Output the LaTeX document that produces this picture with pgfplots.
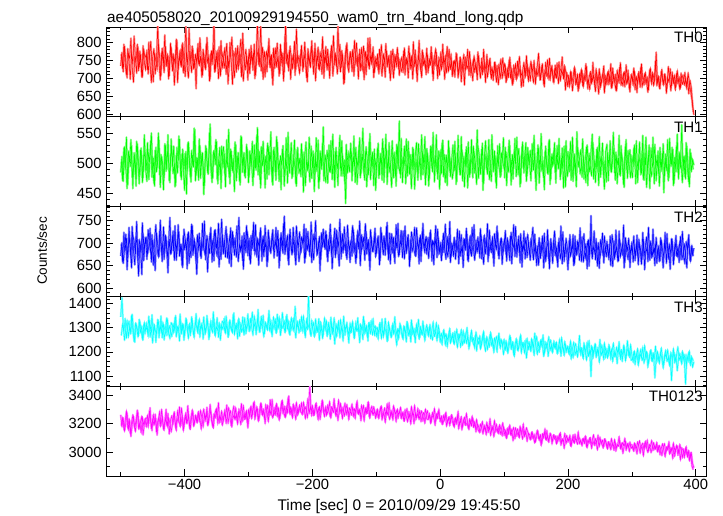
\documentclass[border=0pt]{standalone}
\usepackage{pgfplots}
\usepackage{pgfplotstable}
\pgfplotsset{compat=1.18}
\usepackage{fontspec}
\setmainfont{Liberation Sans}

% Light curves: even 1-s bins (A, from -500 s) and odd 1-s bins (B, from -499 s), every 2 s

% TH0 A
\pgfplotstableread[row sep=\\]{
y\\
735\\772\\718\\790\\745\\701\\768\\756\\812\\730\\689\\760\\748\\795\\721\\776\\742\\703\\781\\758\\
766\\724\\801\\739\\688\\757\\783\\712\\749\\852\\741\\695\\770\\752\\716\\789\\734\\763\\707\\798\\
745\\769\\681\\752\\806\\727\\761\\738\\794\\715\\759\\847\\733\\701\\776\\748\\790\\726\\754\\671\\
782\\740\\813\\756\\708\\767\\729\\795\\744\\761\\698\\777\\752\\866\\719\\763\\731\\788\\706\\749\\
771\\728\\759\\797\\684\\743\\766\\815\\737\\702\\784\\753\\726\\769\\809\\741\\692\\758\\780\\733\\
760\\713\\792\\746\\771\\699\\754\\861\\738\\765\\720\\787\\747\\704\\774\\756\\811\\729\\766\\681\\
748\\785\\731\\762\\706\\795\\742\\770\\717\\858\\751\\733\\779\\697\\763\\744\\803\\725\\768\\738\\
714\\776\\755\\729\\801\\745\\690\\767\\740\\784\\759\\711\\798\\735\\762\\725\\773\\749\\816\\700\\
764\\738\\781\\722\\757\\792\\706\\746\\769\\731\\849\\752\\718\\778\\743\\687\\761\\799\\734\\755\\
772\\719\\750\\806\\737\\764\\698\\781\\745\\723\\790\\758\\710\\767\\734\\813\\748\\773\\702\\760\\
735\\768\\712\\751\\794\\728\\745\\703\\776\\739\\762\\694\\749\\781\\721\\757\\733\\770\\708\\744\\
759\\716\\785\\736\\748\\701\\771\\742\\727\\802\\733\\757\\691\\764\\745\\718\\779\\738\\753\\710\\
766\\729\\744\\788\\712\\751\\736\\773\\699\\758\\741\\724\\795\\737\\762\\715\\748\\781\\727\\746\\
712\\749\\735\\768\\701\\730\\756\\719\\742\\681\\760\\727\\738\\775\\709\\733\\752\\718\\741\\696\\
764\\725\\737\\710\\781\\721\\743\\704\\730\\756\\698\\724\\712\\745\\689\\717\\739\\701\\726\\757\\
708\\733\\694\\718\\751\\702\\727\\686\\714\\740\\699\\723\\761\\705\\716\\678\\731\\709\\744\\693\\
720\\747\\711\\689\\728\\705\\736\\770\\698\\715\\741\\683\\722\\707\\752\\716\\695\\730\\713\\688\\
737\\701\\719\\746\\692\\724\\709\\733\\667\\716\\701\\676\\718\\689\\705\\731\\683\\698\\664\\712\\
690\\722\\677\\703\\741\\685\\696\\669\\715\\693\\708\\680\\726\\699\\656\\712\\687\\704\\735\\678\\
697\\715\\683\\706\\672\\729\\691\\710\\665\\700\\688\\744\\695\\679\\718\\702\\684\\723\\670\\694\\
707\\681\\719\\693\\660\\714\\689\\732\\676\\698\\711\\685\\703\\667\\725\\692\\716\\680\\699\\773\\
688\\705\\671\\720\\695\\683\\712\\658\\701\\690\\727\\679\\706\\694\\668\\715\\686\\703\\674\\697\\
709\\682\\698\\671\\715\\688\\664\\640\\606\\
}\thzeroA
% TH0 B
\pgfplotstableread[row sep=\\]{
y\\
768\\726\\795\\741\\709\\783\\750\\697\\772\\739\\818\\755\\714\\788\\731\\766\\703\\791\\745\\724\\
779\\712\\758\\803\\736\\690\\771\\748\\725\\796\\760\\707\\784\\742\\821\\733\\769\\698\\757\\787\\
720\\763\\741\\809\\688\\754\\778\\731\\799\\746\\705\\772\\737\\839\\752\\716\\783\\728\\766\\744\\
797\\735\\762\\703\\781\\749\\724\\814\\757\\692\\770\\738\\793\\717\\759\\776\\699\\742\\805\\730\\
753\\786\\711\\764\\729\\800\\745\\683\\774\\758\\717\\791\\736\\769\\704\\826\\748\\725\\762\\695\\
781\\740\\767\\722\\795\\708\\756\\779\\733\\850\\744\\697\\773\\751\\718\\788\\739\\764\\701\\784\\
727\\760\\798\\738\\713\\776\\749\\692\\817\\743\\766\\720\\790\\755\\728\\771\\708\\837\\746\\762\\
734\\792\\719\\768\\745\\701\\783\\756\\730\\805\\739\\774\\693\\761\\787\\725\\749\\711\\779\\742\\
789\\723\\761\\700\\776\\744\\819\\737\\765\\712\\752\\795\\729\\769\\684\\757\\791\\736\\718\\774\\
741\\780\\706\\758\\799\\733\\767\\721\\786\\750\\696\\775\\744\\812\\726\\761\\739\\788\\715\\751\\
755\\723\\781\\738\\706\\769\\744\\797\\731\\759\\714\\776\\740\\701\\765\\748\\786\\726\\752\\719\\
732\\777\\709\\756\\741\\790\\725\\763\\698\\749\\779\\718\\742\\806\\735\\702\\770\\747\\728\\784\\
715\\753\\738\\771\\694\\759\\782\\726\\745\\709\\774\\734\\761\\697\\752\\789\\720\\743\\767\\705\\
748\\703\\771\\736\\715\\759\\690\\741\\766\\722\\734\\781\\708\\751\\727\\693\\762\\739\\717\\774\\
731\\700\\756\\719\\742\\688\\767\\725\\749\\712\\731\\694\\745\\708\\736\\682\\721\\754\\699\\728\\
741\\688\\727\\704\\759\\715\\681\\736\\722\\697\\748\\710\\731\\675\\719\\744\\701\\763\\708\\729\\
692\\738\\716\\750\\683\\724\\707\\741\\695\\732\\714\\676\\745\\720\\699\\756\\711\\735\\689\\723\\
704\\743\\685\\718\\727\\760\\698\\734\\712\\679\\707\\683\\719\\665\\698\\726\\688\\711\\671\\703\\
725\\681\\709\\694\\733\\670\\702\\718\\684\\745\\696\\663\\712\\688\\727\\675\\701\\716\\659\\706\\
683\\720\\695\\741\\674\\708\\689\\667\\722\\700\\731\\681\\697\\714\\676\\738\\690\\706\\662\\711\\
694\\729\\668\\704\\686\\719\\675\\740\\698\\682\\716\\691\\661\\707\\728\\684\\712\\695\\749\\679\\
705\\673\\697\\724\\682\\711\\690\\676\\733\\699\\665\\718\\687\\708\\677\\721\\693\\670\\715\\684\\
692\\716\\678\\701\\657\\694\\673\\628\\598\\
}\thzeroB

% TH1 A
\pgfplotstableread[row sep=\\]{
y\\
485\\512\\470\\528\\496\\458\\521\\503\\540\\477\\492\\515\\462\\533\\499\\481\\526\\468\\507\\519\\
488\\535\\473\\509\\551\\494\\467\\522\\486\\504\\539\\460\\512\\497\\476\\531\\490\\548\\471\\508\\
524\\483\\499\\463\\527\\505\\541\\478\\516\\492\\455\\520\\487\\536\\501\\469\\514\\494\\557\\480\\
509\\472\\530\\495\\518\\448\\503\\526\\484\\511\\566\\489\\475\\522\\498\\537\\466\\506\\482\\529\\
493\\517\\461\\540\\500\\476\\524\\491\\509\\453\\532\\485\\518\\470\\546\\497\\512\\479\\503\\525\\
468\\521\\494\\537\\477\\510\\489\\560\\502\\473\\528\\496\\515\\459\\506\\534\\481\\519\\492\\464\\
527\\486\\545\\501\\470\\513\\497\\530\\462\\508\\491\\552\\484\\517\\475\\499\\539\\466\\523\\495\\
507\\478\\520\\452\\511\\536\\488\\502\\469\\529\\493\\516\\480\\543\\504\\458\\521\\490\\533\\471\\
514\\497\\467\\531\\485\\509\\549\\476\\520\\498\\463\\525\\492\\538\\479\\506\\433\\517\\500\\486\\
534\\471\\512\\495\\527\\465\\501\\543\\483\\516\\490\\472\\528\\505\\481\\550\\496\\519\\463\\508\\
489\\526\\475\\513\\498\\541\\468\\507\\521\\484\\535\\494\\460\\518\\502\\479\\532\\491\\571\\476\\
510\\495\\529\\466\\504\\537\\482\\515\\490\\524\\457\\508\\486\\533\\499\\473\\520\\501\\545\\480\\
517\\462\\503\\528\\486\\511\\494\\548\\474\\507\\521\\483\\539\\496\\468\\514\\490\\526\\478\\505\\
531\\488\\512\\470\\547\\497\\481\\523\\505\\461\\519\\493\\536\\477\\510\\498\\529\\484\\502\\556\\
475\\509\\491\\534\\467\\516\\500\\482\\540\\495\\470\\524\\488\\513\\459\\530\\497\\477\\518\\503\\
492\\527\\463\\511\\539\\485\\506\\474\\521\\499\\544\\481\\512\\466\\528\\494\\508\\535\\479\\515\\
500\\471\\533\\489\\517\\455\\504\\526\\487\\550\\493\\476\\519\\507\\483\\538\\465\\512\\496\\522\\
485\\514\\498\\542\\473\\509\\491\\529\\461\\503\\520\\486\\537\\499\\470\\516\\482\\553\\494\\508\\
523\\477\\510\\495\\468\\531\\502\\486\\519\\549\\474\\506\\490\\527\\463\\512\\498\\534\\480\\505\\
469\\518\\493\\538\\485\\507\\526\\472\\511\\497\\547\\479\\515\\501\\460\\528\\489\\522\\495\\476\\
512\\498\\531\\466\\504\\490\\536\\481\\520\\473\\509\\544\\487\\514\\458\\526\\495\\503\\532\\471\\
506\\483\\527\\494\\517\\451\\509\\488\\540\\476\\513\\499\\524\\467\\502\\530\\485\\518\\492\\565\\
487\\512\\474\\529\\496\\461\\518\\503\\490\\
}\thoneA
% TH1 B
\pgfplotstableread[row sep=\\]{
y\\
503\\471\\526\\489\\544\\464\\512\\495\\530\\458\\518\\482\\537\\499\\466\\523\\507\\476\\548\\491\\
470\\519\\502\\538\\477\\509\\462\\527\\493\\551\\481\\515\\498\\456\\533\\487\\520\\504\\468\\541\\
496\\529\\461\\513\\484\\546\\502\\473\\524\\490\\517\\449\\535\\508\\478\\522\\495\\559\\471\\510\\
487\\541\\475\\516\\498\\463\\530\\505\\482\\552\\493\\468\\519\\511\\540\\474\\501\\527\\458\\514\\
528\\480\\509\\494\\557\\466\\521\\488\\503\\536\\471\\513\\497\\464\\545\\485\\518\\476\\532\\499\\
477\\515\\499\\463\\531\\492\\547\\481\\520\\459\\508\\537\\486\\512\\474\\528\\503\\553\\469\\521\\
511\\472\\536\\490\\505\\456\\524\\497\\481\\543\\467\\516\\502\\535\\478\\509\\491\\462\\527\\484\\
494\\533\\478\\519\\463\\507\\488\\544\\499\\475\\521\\453\\512\\487\\539\\470\\518\\496\\561\\482\\
469\\522\\501\\486\\538\\473\\515\\460\\527\\491\\508\\547\\479\\513\\497\\465\\532\\484\\519\\506\\
517\\488\\546\\468\\509\\495\\531\\476\\504\\559\\483\\520\\461\\497\\536\\473\\512\\490\\524\\455\\
500\\534\\481\\517\\472\\526\\492\\549\\465\\511\\487\\504\\538\\476\\519\\462\\530\\497\\483\\542\\
468\\511\\496\\541\\479\\520\\503\\458\\527\\489\\514\\535\\472\\506\\493\\548\\481\\516\\464\\525\\
507\\475\\529\\492\\552\\469\\513\\486\\521\\457\\500\\534\\478\\515\\496\\463\\538\\487\\509\\474\\
490\\537\\465\\518\\502\\481\\545\\471\\512\\494\\528\\459\\507\\483\\540\\476\\520\\499\\465\\530\\
514\\482\\524\\455\\509\\538\\489\\517\\473\\503\\548\\486\\521\\468\\512\\495\\533\\479\\505\\543\\
476\\519\\501\\487\\530\\464\\515\\492\\542\\478\\509\\525\\461\\503\\536\\484\\518\\470\\527\\497\\
522\\486\\510\\547\\475\\498\\531\\467\\513\\489\\505\\456\\529\\496\\482\\540\\474\\516\\501\\535\\
467\\530\\491\\513\\482\\526\\459\\508\\538\\478\\495\\519\\472\\544\\488\\503\\461\\527\\512\\483\\
498\\541\\474\\506\\528\\463\\517\\493\\479\\535\\502\\468\\524\\486\\545\\477\\510\\491\\457\\520\\
532\\471\\514\\489\\503\\552\\484\\519\\466\\509\\481\\530\\497\\464\\516\\540\\475\\507\\523\\488\\
477\\526\\495\\538\\468\\511\\499\\483\\547\\472\\518\\460\\502\\531\\490\\479\\544\\466\\513\\497\\
521\\462\\508\\487\\533\\479\\516\\498\\471\\542\\495\\527\\463\\510\\486\\549\\474\\519\\501\\468\\
512\\478\\535\\490\\469\\524\\486\\507\\497\\
}\thoneB

% TH2 A
\pgfplotstableread[row sep=\\]{
y\\
672\\701\\655\\688\\720\\641\\695\\710\\668\\737\\684\\652\\716\\690\\627\\703\\679\\745\\661\\698\\
712\\676\\693\\733\\658\\707\\685\\639\\722\\696\\670\\751\\681\\700\\664\\718\\689\\634\\709\\677\\
694\\727\\662\\705\\680\\741\\671\\698\\650\\716\\687\\709\\643\\725\\691\\668\\739\\683\\701\\657\\
719\\686\\703\\666\\744\\692\\674\\710\\636\\699\\723\\678\\706\\661\\730\\688\\713\\647\\696\\753\\
681\\708\\669\\721\\695\\655\\734\\690\\712\\673\\702\\738\\659\\697\\684\\716\\642\\705\\679\\726\\
700\\663\\717\\688\\746\\676\\693\\710\\651\\724\\685\\707\\670\\739\\691\\658\\714\\682\\699\\730\\
667\\705\\689\\728\\645\\711\\694\\678\\760\\686\\703\\661\\720\\697\\674\\735\\688\\652\\709\\692\\
725\\679\\698\\714\\656\\732\\684\\706\\671\\747\\690\\663\\718\\701\\677\\704\\638\\723\\693\\711\\
686\\720\\659\\701\\742\\675\\695\\713\\668\\729\\683\\649\\717\\700\\678\\736\\691\\664\\708\\685\\
703\\671\\730\\694\\655\\718\\687\\749\\676\\699\\712\\662\\726\\689\\705\\640\\715\\682\\698\\733\\
677\\709\\693\\661\\724\\690\\716\\673\\737\\684\\700\\654\\721\\696\\668\\711\\689\\744\\674\\706\\
692\\727\\665\\703\\686\\719\\648\\710\\681\\697\\735\\671\\706\\688\\712\\659\\726\\695\\679\\714\\
698\\666\\723\\690\\705\\652\\714\\687\\731\\676\\693\\661\\708\\679\\742\\685\\670\\716\\657\\699\\
688\\713\\664\\702\\680\\727\\671\\695\\646\\709\\684\\720\\659\\698\\676\\735\\690\\662\\707\\681\\
704\\667\\719\\685\\653\\711\\690\\743\\672\\697\\680\\715\\649\\703\\686\\724\\665\\694\\710\\677\\
691\\728\\660\\705\\682\\716\\654\\699\\687\\737\\669\\708\\679\\721\\647\\696\\684\\713\\668\\702\\
675\\709\\688\\663\\720\\668\\694\\651\\702\\677\\716\\645\\689\\670\\730\\661\\684\\698\\655\\708\\
673\\690\\647\\711\\666\\682\\725\\659\\697\\678\\641\\706\\671\\688\\719\\653\\694\\675\\703\\662\\
687\\714\\658\\680\\699\\643\\708\\674\\761\\665\\692\\679\\710\\649\\701\\668\\685\\722\\656\\690\\
671\\697\\663\\716\\682\\648\\705\\676\\691\\659\\727\\670\\686\\701\\645\\712\\680\\664\\694\\677\\
703\\658\\689\\674\\718\\652\\696\\683\\667\\709\\641\\691\\678\\735\\662\\700\\672\\687\\650\\713\\
676\\693\\661\\707\\684\\669\\724\\655\\698\\679\\642\\710\\688\\666\\701\\673\\692\\657\\715\\680\\
664\\699\\675\\645\\708\\683\\660\\694\\671\\
}\thtwoA
% TH2 B
\pgfplotstableread[row sep=\\]{
y\\
699\\658\\724\\683\\711\\667\\735\\690\\645\\718\\703\\676\\748\\661\\707\\692\\630\\721\\686\\713\\
664\\730\\697\\679\\719\\651\\704\\741\\688\\670\\727\\695\\659\\736\\682\\714\\668\\699\\757\\676\\
715\\683\\739\\662\\701\\725\\678\\693\\646\\731\\707\\684\\721\\655\\698\\742\\673\\710\\689\\631\\
692\\722\\670\\706\\684\\749\\663\\716\\697\\677\\735\\658\\703\\729\\686\\671\\744\\691\\664\\718\\
676\\709\\737\\667\\695\\719\\648\\726\\688\\712\\669\\704\\757\\681\\697\\661\\723\\693\\739\\672\\
711\\654\\698\\727\\683\\741\\669\\705\\690\\734\\660\\716\\685\\702\\648\\729\\694\\678\\720\\687\\
696\\735\\671\\709\\661\\723\\689\\744\\675\\700\\717\\652\\731\\692\\680\\711\\668\\738\\699\\659\\
682\\713\\700\\742\\666\\695\\726\\681\\708\\657\\720\\697\\750\\674\\688\\715\\663\\703\\731\\690\\
727\\669\\706\\685\\718\\643\\699\\733\\677\\710\\694\\753\\665\\721\\686\\701\\672\\740\\693\\657\\
705\\739\\680\\696\\667\\727\\711\\650\\719\\689\\702\\743\\676\\708\\661\\730\\694\\682\\715\\670\\
688\\716\\652\\735\\699\\674\\709\\687\\746\\663\\722\\692\\679\\713\\655\\741\\697\\670\\704\\728\\
668\\700\\738\\677\\714\\691\\663\\725\\706\\685\\672\\734\\699\\654\\718\\683\\744\\689\\709\\675\\
713\\685\\729\\660\\703\\694\\739\\668\\712\\681\\701\\673\\722\\690\\664\\715\\681\\748\\669\\693\\
672\\706\\686\\731\\654\\697\\719\\678\\709\\689\\733\\662\\700\\716\\671\\694\\741\\676\\687\\714\\
681\\732\\665\\699\\717\\676\\708\\659\\729\\688\\704\\667\\721\\694\\738\\672\\690\\711\\653\\697\\
709\\675\\712\\687\\661\\724\\693\\741\\670\\700\\686\\716\\656\\705\\680\\727\\665\\698\\719\\688\\
662\\703\\735\\678\\694\\650\\686\\712\\666\\697\\681\\722\\659\\691\\704\\643\\710\\676\\695\\727\\
685\\661\\702\\679\\738\\654\\693\\670\\711\\688\\662\\719\\681\\698\\650\\716\\673\\704\\687\\734\\
659\\695\\721\\667\\686\\705\\649\\713\\678\\692\\727\\663\\699\\681\\644\\708\\689\\673\\716\\682\\
704\\672\\688\\650\\719\\695\\664\\729\\683\\660\\706\\690\\675\\740\\657\\699\\684\\711\\646\\692\\
680\\716\\661\\697\\674\\708\\685\\653\\724\\670\\693\\714\\659\\689\\703\\667\\731\\678\\696\\655\\
687\\659\\712\\678\\645\\700\\683\\721\\664\\697\\675\\709\\652\\691\\717\\670\\685\\702\\663\\726\\
677\\654\\703\\686\\719\\661\\692\\674\\689\\
}\thtwoB

% TH3 A
\pgfplotstableread[row sep=\\]{
y\\
1345\\1425\\1312\\1248\\1295\\1330\\1262\\1301\\1278\\1356\\1285\\1240\\1318\\1296\\1267\\1327\\1289\\1253\\1310\\1275\\
1320\\1283\\1348\\1261\\1299\\1237\\1314\\1290\\1276\\1335\\1258\\1306\\1282\\1322\\1249\\1297\\1341\\1270\\1308\\1287\\
1264\\1316\\1292\\1351\\1279\\1303\\1245\\1325\\1288\\1311\\1268\\1340\\1294\\1256\\1317\\1284\\1330\\1272\\1301\\1359\\
1286\\1323\\1262\\1308\\1290\\1345\\1273\\1299\\1328\\1251\\1315\\1296\\1280\\1337\\1266\\1304\\1289\\1320\\1248\\1310\\
1293\\1339\\1278\\1316\\1260\\1327\\1301\\1285\\1354\\1272\\1309\\1291\\1333\\1264\\1318\\1298\\1282\\1342\\1276\\1305\\
1329\\1287\\1314\\1365\\1296\\1320\\1271\\1336\\1305\\1283\\1348\\1299\\1263\\1324\\1310\\1290\\1372\\1302\\1278\\1317\\
1295\\1334\\1280\\1316\\1344\\1268\\1311\\1298\\1327\\1285\\1355\\1303\\1274\\1322\\1291\\1339\\1307\\1258\\1318\\1296\\
1331\\1287\\1313\\1349\\1276\\1305\\1293\\1435\\1290\\1266\\1298\\1321\\1269\\1306\\1285\\1338\\1277\\1302\\1255\\1316\\
1290\\1328\\1272\\1305\\1252\\1317\\1286\\1340\\1295\\1263\\1311\\1279\\1333\\1289\\1246\\1307\\1294\\1322\\1268\\1300\\
1279\\1315\\1297\\1258\\1324\\1286\\1305\\1238\\1310\\1291\\1347\\1275\\1302\\1263\\1318\\1287\\1329\\1271\\1296\\1308\\
1265\\1300\\1278\\1322\\1256\\1291\\1274\\1339\\1283\\1247\\1306\\1281\\1262\\1318\\1290\\1270\\1228\\1296\\1279\\1310\\
1287\\1252\\1303\\1275\\1326\\1268\\1290\\1241\\1311\\1283\\1262\\1298\\1277\\1335\\1259\\1292\\1271\\1308\\1246\\1285\\
1299\\1266\\1313\\1272\\1250\\1294\\1281\\1320\\1260\\1288\\1241\\1276\\1255\\1290\\1229\\1268\\1247\\1283\\1236\\1262\\
1279\\1232\\1258\\1294\\1245\\1270\\1221\\1256\\1287\\1238\\1263\\1300\\1249\\1225\\1271\\1244\\1257\\1216\\1282\\1251\\
1234\\1266\\1220\\1249\\1285\\1229\\1256\\1210\\1243\\1271\\1227\\1252\\1198\\1240\\1263\\1231\\1278\\1215\\1246\\1224\\
1252\\1209\\1237\\1195\\1228\\1261\\1214\\1240\\1182\\1225\\1249\\1205\\1233\\1270\\1218\\1238\\1196\\1229\\1256\\1211\\
1235\\1203\\1247\\1218\\1278\\1224\\1190\\1239\\1212\\1251\\1227\\1181\\1243\\1216\\1232\\1262\\1206\\1229\\1197\\1245\\
1213\\1240\\1194\\1226\\1201\\1259\\1218\\1185\\1230\\1207\\1222\\1189\\1245\\1203\\1176\\1219\\1234\\1195\\1210\\1268\\
1187\\1214\\1172\\1225\\1198\\1240\\1183\\1206\\1098\\1218\\1195\\1231\\1178\\1209\\1190\\1252\\1186\\1203\\1168\\1221\\
1197\\1175\\1230\\1188\\1211\\1160\\1204\\1182\\1219\\1193\\1243\\1171\\1208\\1185\\1222\\1163\\1199\\1214\\1179\\1230\\
1186\\1158\\1203\\1172\\1194\\1144\\1188\\1211\\1165\\1180\\1226\\1170\\1195\\1153\\1183\\1207\\1162\\1190\\1092\\1176\\
1201\\1164\\1183\\1216\\1170\\1149\\1192\\1176\\1208\\1158\\1185\\1081\\1173\\1197\\1162\\1188\\1220\\1167\\1181\\1150\\
1195\\1171\\1066\\1186\\1160\\1203\\1145\\1176\\1163\\
}\ththreeA
% TH3 B
\pgfplotstableread[row sep=\\]{
y\\
1268\\1315\\1283\\1339\\1256\\1301\\1327\\1274\\1352\\1289\\1243\\1318\\1297\\1263\\1335\\1281\\1306\\1249\\1322\\1290\\
1302\\1264\\1331\\1287\\1354\\1271\\1310\\1239\\1296\\1327\\1280\\1349\\1258\\1314\\1293\\1269\\1338\\1284\\1255\\1321\\
1311\\1279\\1343\\1262\\1305\\1291\\1357\\1274\\1318\\1248\\1296\\1333\\1285\\1312\\1267\\1346\\1293\\1259\\1324\\1301\\
1277\\1336\\1294\\1318\\1253\\1309\\1281\\1351\\1297\\1264\\1329\\1288\\1366\\1275\\1303\\1342\\1260\\1316\\1291\\1327\\
1320\\1284\\1349\\1297\\1266\\1331\\1305\\1279\\1362\\1290\\1316\\1254\\1337\\1301\\1283\\1345\\1270\\1311\\1296\\1358\\
1285\\1337\\1303\\1270\\1348\\1317\\1292\\1376\\1281\\1325\\1306\\1352\\1275\\1319\\1294\\1340\\1289\\1331\\1263\\1344\\
1322\\1278\\1356\\1300\\1335\\1286\\1363\\1309\\1281\\1347\\1296\\1328\\1270\\1341\\1314\\1287\\1389\\1301\\1326\\1279\\
1302\\1346\\1284\\1325\\1259\\1339\\1298\\1318\\1273\\1331\\1290\\1263\\1337\\1282\\1310\\1248\\1324\\1296\\1271\\1341\\
1305\\1265\\1320\\1287\\1344\\1274\\1299\\1232\\1316\\1288\\1327\\1258\\1303\\1281\\1348\\1269\\1310\\1292\\1236\\1319\\
1283\\1326\\1260\\1301\\1289\\1342\\1266\\1315\\1295\\1251\\1331\\1287\\1309\\1245\\1322\\1276\\1298\\1337\\1270\\1304\\
1294\\1253\\1316\\1280\\1337\\1262\\1301\\1284\\1243\\1323\\1288\\1261\\1310\\1275\\1346\\1269\\1293\\1254\\1318\\1282\\
1259\\1307\\1282\\1241\\1320\\1288\\1266\\1333\\1274\\1297\\1238\\1315\\1283\\1254\\1304\\1277\\1328\\1262\\1290\\1312\\
1270\\1303\\1257\\1291\\1324\\1265\\1285\\1246\\1309\\1279\\1262\\1230\\1289\\1258\\1275\\1221\\1266\\1297\\1244\\1270\\
1238\\1283\\1252\\1219\\1273\\1260\\1292\\1229\\1249\\1277\\1236\\1264\\1213\\1255\\1289\\1241\\1226\\1268\\1203\\1259\\
1251\\1212\\1245\\1274\\1230\\1203\\1262\\1239\\1221\\1281\\1248\\1216\\1257\\1235\\1200\\1268\\1229\\1253\\1241\\1190\\
1219\\1246\\1201\\1233\\1268\\1212\\1240\\1190\\1229\\1255\\1207\\1222\\1261\\1196\\1237\\1215\\1247\\1174\\1226\\1242\\
1208\\1254\\1221\\1186\\1234\\1263\\1213\\1199\\1246\\1225\\1271\\1193\\1218\\1238\\1181\\1230\\1249\\1202\\1235\\1219\\
1236\\1194\\1220\\1252\\1182\\1227\\1205\\1243\\1198\\1223\\1196\\1228\\1171\\1214\\1240\\1187\\1208\\1179\\1225\\1199\\
1216\\1181\\1237\\1202\\1166\\1211\\1246\\1190\\1224\\1173\\1205\\1232\\1184\\1219\\1157\\1201\\1228\\1193\\1237\\1177\\
1213\\1186\\1222\\1170\\1204\\1236\\1181\\1197\\1151\\1215\\1189\\1208\\1160\\1226\\1193\\1178\\1247\\1187\\1206\\1165\\
1170\\1199\\1148\\1185\\1213\\1160\\1191\\1176\\1219\\1154\\1183\\1201\\1137\\1178\\1206\\1164\\1195\\1172\\1224\\1158\\
1188\\1152\\1196\\1171\\1133\\1182\\1207\\1161\\1179\\1143\\1198\\1169\\1213\\1156\\1185\\1122\\1174\\1194\\1161\\1203\\
1168\\1189\\1144\\1175\\1198\\1153\\1182\\1137\\1160\\
}\ththreeB

% TH0123 A
\pgfplotstableread[row sep=\\]{
y\\
3262\\3180\\3235\\3148\\3201\\3276\\3157\\3224\\3109\\3196\\3251\\3173\\3218\\3295\\3165\\3207\\3137\\3244\\3189\\3231\\
3178\\3258\\3203\\3312\\3164\\3229\\3190\\3267\\3141\\3216\\3245\\3182\\3301\\3207\\3156\\3238\\3195\\3272\\3126\\3224\\
3255\\3199\\3284\\3173\\3236\\3210\\3318\\3187\\3247\\3151\\3229\\3276\\3204\\3260\\3168\\3241\\3296\\3183\\3222\\3250\\
3208\\3283\\3236\\3162\\3259\\3301\\3217\\3274\\3190\\3248\\3335\\3226\\3181\\3267\\3241\\3305\\3199\\3256\\3230\\3288\\
3215\\3270\\3244\\3331\\3203\\3262\\3289\\3176\\3258\\3237\\3310\\3223\\3279\\3248\\3194\\3268\\3325\\3232\\3281\\3209\\
3297\\3246\\3322\\3265\\3349\\3231\\3284\\3306\\3219\\3275\\3338\\3258\\3293\\3202\\3281\\3327\\3250\\3369\\3270\\3241\\
3311\\3263\\3340\\3288\\3225\\3302\\3356\\3271\\3319\\3246\\3294\\3382\\3279\\3315\\3257\\3336\\3289\\3230\\3308\\3274\\
3331\\3286\\3264\\3350\\3297\\3318\\3243\\3305\\3465\\3280\\3326\\3258\\3299\\3344\\3273\\3310\\3231\\3292\\3361\\3276\\
3306\\3258\\3330\\3285\\3247\\3318\\3297\\3376\\3266\\3302\\3223\\3289\\3341\\3271\\3315\\3254\\3296\\3333\\3262\\3309\\
3290\\3337\\3251\\3304\\3278\\3359\\3266\\3298\\3221\\3284\\3327\\3259\\3312\\3275\\3348\\3240\\3293\\3269\\3318\\3281\\
3255\\3301\\3236\\3285\\3322\\3248\\3274\\3209\\3290\\3263\\3345\\3252\\3280\\3226\\3306\\3268\\3291\\3237\\3275\\3314\\
3244\\3280\\3219\\3267\\3305\\3236\\3261\\3198\\3283\\3250\\3327\\3228\\3270\\3241\\3292\\3215\\3259\\3276\\3203\\3264\\
3290\\3233\\3255\\3211\\3278\\3246\\3189\\3268\\3237\\3301\\3214\\3252\\3196\\3231\\3270\\3183\\3225\\3248\\3207\\3262\\
3229\\3176\\3241\\3208\\3285\\3194\\3223\\3157\\3216\\3244\\3189\\3205\\3168\\3231\\3196\\3252\\3175\\3212\\3143\\3198\\
3181\\3137\\3169\\3214\\3150\\3176\\3122\\3187\\3161\\3233\\3145\\3172\\3108\\3164\\3195\\3140\\3178\\3127\\3166\\3205\\
3118\\3152\\3097\\3140\\3180\\3125\\3159\\3081\\3136\\3170\\3113\\3146\\3102\\3168\\3129\\3197\\3110\\3144\\3076\\3133\\
3122\\3089\\3140\\3100\\3065\\3118\\3153\\3094\\3111\\3047\\3128\\3099\\3162\\3085\\3113\\3070\\3132\\3104\\3078\\3121\\
3097\\3058\\3110\\3079\\3135\\3066\\3093\\3027\\3088\\3116\\3071\\3102\\3045\\3084\\3120\\3063\\3098\\3076\\3141\\3059\\
3082\\3044\\3095\\3061\\3108\\3032\\3074\\3099\\3053\\3086\\3121\\3048\\3077\\3016\\3069\\3104\\3057\\3083\\3039\\3091\\
3060\\3022\\3071\\3038\\3094\\3047\\3013\\3066\\3031\\3052\\3108\\3026\\3057\\2992\\3043\\3075\\3029\\3061\\3004\\3049\\
3052\\3016\\3063\\3027\\2988\\3046\\3079\\3021\\3040\\2974\\3058\\3033\\3084\\3009\\3044\\2997\\3031\\3066\\3018\\3050\\
3003\\3041\\2982\\3027\\3058\\3010\\2968\\3035\\3016\\3072\\2993\\3024\\2955\\3038\\3005\\3047\\2979\\3019\\2946\\3030\\
3012\\2961\\3028\\2984\\3006\\2940\\2991\\2903\\2876\\
}\thallA
% TH0123 B
\pgfplotstableread[row sep=\\]{
y\\
3185\\3242\\3163\\3219\\3288\\3174\\3231\\3132\\3206\\3260\\3191\\3145\\3227\\3279\\3168\\3213\\3251\\3120\\3198\\3237\\
3241\\3176\\3290\\3212\\3152\\3263\\3198\\3234\\3119\\3226\\3284\\3187\\3249\\3160\\3213\\3301\\3179\\3239\\3203\\3143\\
3196\\3268\\3214\\3152\\3289\\3227\\3180\\3311\\3235\\3174\\3256\\3205\\3327\\3219\\3163\\3246\\3282\\3190\\3258\\3211\\
3277\\3216\\3293\\3241\\3178\\3269\\3232\\3315\\3194\\3254\\3289\\3221\\3170\\3263\\3298\\3236\\3347\\3207\\3252\\3189\\
3232\\3296\\3203\\3267\\3311\\3241\\3185\\3279\\3322\\3228\\3264\\3197\\3301\\3255\\3341\\3218\\3274\\3236\\3290\\3169\\
3261\\3313\\3236\\3297\\3352\\3257\\3318\\3224\\3283\\3341\\3268\\3302\\3239\\3333\\3287\\3215\\3298\\3264\\3371\\3256\\
3274\\3328\\3252\\3309\\3237\\3295\\3361\\3281\\3247\\3322\\3276\\3395\\3265\\3303\\3241\\3327\\3286\\3348\\3260\\3312\\
3283\\3345\\3267\\3310\\3236\\3299\\3378\\3272\\3321\\3255\\3304\\3262\\3336\\3287\\3228\\3318\\3275\\3359\\3292\\3249\\
3319\\3268\\3295\\3354\\3241\\3303\\3279\\3331\\3252\\3287\\3366\\3274\\3311\\3236\\3298\\3343\\3263\\3308\\3228\\3292\\
3261\\3312\\3289\\3236\\3340\\3274\\3301\\3255\\3329\\3283\\3219\\3306\\3270\\3351\\3247\\3295\\3322\\3260\\3289\\3238\\
3296\\3243\\3283\\3318\\3227\\3272\\3309\\3254\\3338\\3266\\3230\\3293\\3245\\3325\\3279\\3214\\3301\\3262\\3288\\3236\\
3276\\3222\\3297\\3248\\3213\\3283\\3239\\3319\\3262\\3201\\3271\\3245\\3307\\3230\\3266\\3288\\3219\\3255\\3301\\3234\\
3228\\3271\\3203\\3259\\3241\\3306\\3219\\3254\\3286\\3235\\3240\\3196\\3258\\3222\\3279\\3205\\3241\\3187\\3254\\3216\\
3185\\3233\\3197\\3253\\3164\\3216\\3249\\3178\\3226\\3191\\3271\\3207\\3159\\3221\\3185\\3238\\3194\\3172\\3229\\3160\\
3142\\3196\\3167\\3128\\3187\\3153\\3209\\3139\\3175\\3118\\3184\\3155\\3221\\3143\\3170\\3131\\3192\\3159\\3115\\3178\\
3152\\3104\\3166\\3128\\3189\\3117\\3149\\3173\\3095\\3141\\3162\\3108\\3181\\3134\\3092\\3157\\3125\\3171\\3142\\3111\\
3087\\3138\\3096\\3124\\3071\\3109\\3145\\3083\\3121\\3062\\3114\\3136\\3091\\3150\\3077\\3106\\3128\\3058\\3119\\3093\\
3113\\3066\\3102\\3127\\3049\\3091\\3074\\3130\\3060\\3097\\3082\\3118\\3041\\3093\\3069\\3124\\3078\\3055\\3106\\3087\\
3055\\3093\\3071\\3112\\3038\\3083\\3063\\3101\\3027\\3079\\3052\\3094\\3066\\3118\\3041\\3087\\3060\\3029\\3092\\3073\\
3031\\3072\\3049\\3017\\3063\\3036\\3087\\3008\\3054\\3041\\3079\\3022\\3066\\3047\\3096\\3013\\3058\\3034\\3070\\3027\\
3041\\3006\\3057\\3024\\3071\\3035\\2993\\3048\\3062\\3017\\3075\\3029\\2998\\3054\\3040\\3081\\3012\\3046\\3023\\3068\\
3007\\3046\\3021\\2976\\3034\\3059\\2994\\3025\\3048\\2987\\3031\\3011\\3063\\2972\\3026\\3042\\2999\\3054\\3013\\2961\\
3019\\2983\\3037\\2966\\3010\\2952\\2995\\2918\\2890\\
}\thallB

\pgfplotsset{
  panel/.style={
    scale only axis, width=600bp, height=89.8bp,
    anchor=south west,
    xmin=-523, xmax=416,
    xtick={-400,-200,0,200,400},
    minor xtick={-500,-300,-100,100,300},
    xticklabels={},
    tick align=inside,
    major tick length=6.5bp, minor tick length=3.5bp,
    every tick/.style={black, line width=0.6pt},
    axis line style={black, line width=0.8pt},
    ticklabel style={font=\fontsize{14.8}{16}\selectfont},
    yticklabel style={xshift=-1bp},
  },
  lc/.style={mark=none, line width=0.5pt, line join=miter},
  halo/.style={mark=none, line width=2pt, color=#1, line join=round},
}
\tikzset{lab/.style={anchor=north east, inner sep=0pt, font=\fontsize{15.2}{17}\selectfont}}

\definecolor{pred}{RGB}{255,0,0}
\definecolor{pgreen}{RGB}{0,255,0}
\definecolor{pblue}{RGB}{0,0,255}
\definecolor{pcyan}{RGB}{0,255,255}
\definecolor{pmag}{RGB}{255,0,255}

\begin{document}
\begin{tikzpicture}[x=1bp,y=1bp]
\path[use as bounding box] (0,0) rectangle (723,516);

% TH0
\begin{axis}[panel, at={(106bp,399.2bp)}, ymin=593, ymax=843,
  ytick={600,650,700,750,800}, yticklabels={600,650,700,750,800},
  minor ytick={600,610,...,840}]
\addplot[halo=pred!40] table[x expr=\coordindex*2-500, y=y]{\thzeroA};
\addplot[halo=pred!40] table[x expr=\coordindex*2-499, y=y]{\thzeroB};
\addplot[lc, pred] table[x expr=\coordindex*2-500, y=y]{\thzeroA};
\addplot[lc, pred] table[x expr=\coordindex*2-499, y=y]{\thzeroB};
\end{axis}

% TH1
\begin{axis}[panel, at={(106bp,309.4bp)}, ymin=428, ymax=578,
  ytick={450,500,550}, yticklabels={450,500,550},
  minor ytick={430,440,...,570}]
\addplot[halo=pgreen!45] table[x expr=\coordindex*2-500, y=y]{\thoneA};
\addplot[halo=pgreen!45] table[x expr=\coordindex*2-499, y=y]{\thoneB};
\addplot[lc, pgreen] table[x expr=\coordindex*2-500, y=y]{\thoneA};
\addplot[lc, pgreen] table[x expr=\coordindex*2-499, y=y]{\thoneB};
\end{axis}

% TH2
\begin{axis}[panel, at={(106bp,219.6bp)}, ymin=582, ymax=781,
  ytick={600,650,700,750}, yticklabels={600,650,700,750},
  minor ytick={590,600,...,780}]
\addplot[halo=pblue!45] table[x expr=\coordindex*2-500, y=y]{\thtwoA};
\addplot[halo=pblue!45] table[x expr=\coordindex*2-499, y=y]{\thtwoB};
\addplot[lc, pblue] table[x expr=\coordindex*2-500, y=y]{\thtwoA};
\addplot[lc, pblue] table[x expr=\coordindex*2-499, y=y]{\thtwoB};
\end{axis}

% TH3
\begin{axis}[panel, at={(106bp,129.8bp)}, ymin=1058, ymax=1430,
  ytick={1100,1200,1300,1400}, yticklabels={1100,1200,1300,1400},
  minor ytick={1060,1080,...,1420}]
\addplot[halo=pcyan!45] table[x expr=\coordindex*2-500, y=y]{\ththreeA};
\addplot[halo=pcyan!45] table[x expr=\coordindex*2-499, y=y]{\ththreeB};
\addplot[lc, pcyan] table[x expr=\coordindex*2-500, y=y]{\ththreeA};
\addplot[lc, pcyan] table[x expr=\coordindex*2-499, y=y]{\ththreeB};
\end{axis}

% TH0123
\begin{axis}[panel, at={(106bp,40bp)}, ymin=2832, ymax=3463,
  ytick={3000,3200,3400}, yticklabels={3000,3200,3400},
  minor ytick={2900,3100,3300},
  xticklabels={−400,−200,0,200,400}]
\addplot[halo=pmag!45] table[x expr=\coordindex*2-500, y=y]{\thallA};
\addplot[halo=pmag!45] table[x expr=\coordindex*2-499, y=y]{\thallB};
\addplot[lc, pmag] table[x expr=\coordindex*2-500, y=y]{\thallA};
\addplot[lc, pmag] table[x expr=\coordindex*2-499, y=y]{\thallB};
\end{axis}

\node[lab] at (703,484) {TH0};
\node[lab] at (703,394.2) {TH1};
\node[lab] at (703,304.4) {TH2};
\node[lab] at (703,214.6) {TH3};
\node[lab] at (703,124.8) {TH0123};

\node[anchor=base west, inner sep=0pt, font=\fontsize{15.4}{17}\selectfont] at (107,493.3)
  {ae405058020\_20100929194550\_wam0\_trn\_4band\_long.qdp};
\node[rotate=90, inner sep=0pt, font=\fontsize{13.6}{15}\selectfont] at (42,265) {Counts/sec};
\node[anchor=base, inner sep=0pt, font=\fontsize{15.5}{17}\selectfont] at (399,5) {Time [sec] 0 = 2010/09/29 19:45:50};
\end{tikzpicture}
\end{document}
